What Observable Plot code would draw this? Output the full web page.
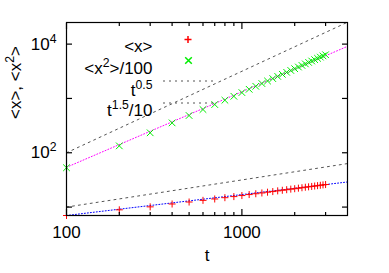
<!DOCTYPE html>
<html>
<head>
<meta charset="utf-8">
<script src="https://cdn.jsdelivr.net/npm/d3@7"></script>
<script src="https://cdn.jsdelivr.net/npm/@observablehq/plot@0.6"></script>
<style>
  html, body { margin: 0; padding: 0; background: white; }
</style>
</head>
<body>
<div id="chart"></div>
<script>
// ---- data ----
const tValues = [100, 200, 300, 400, 500, 600, 700, 800, 900, 1000,
  1100, 1200, 1300, 1400, 1500, 1600, 1700, 1800, 1900, 2000,
  2100, 2200, 2300, 2400, 2500, 2600, 2700, 2800, 2900, 3000];
const meanX = [7.0, 8.9, 10.1, 11.4, 12.4, 13.3, 14.1, 14.9, 15.6, 16.3,
  17.0, 17.6, 18.2, 18.8, 19.3, 19.9, 20.4, 20.9, 21.4, 21.8,
  22.3, 22.7, 23.2, 23.6, 24.0, 24.4, 24.8, 25.2, 25.6, 26.0];
const meanX2over100 = [53, 134, 233, 355, 485, 626, 773, 927, 1096, 1282,
  1473, 1673, 1880, 2095, 2318, 2546, 2782, 3024, 3273, 3527,
  3787, 4054, 4325, 4602, 4886, 5173, 5466, 5764, 6066, 6375];
// fit lines (endpoints)
const fitT = [100, 4000];
const fitX = [7.0, 29.0];
const fitX2 = [54, 9100];
// reference power laws (endpoints)
const refT = [100, 4000];
const refSqrt = [10, 63.2];       // t^0.5
const refT15 = [100, 25298];      // t^1.5/10
// ticks
const xMajor = [100, 1000];
const xMinor = [200, 300, 400, 500, 600, 700, 800, 900, 2000, 3000];
const xLabels = ["100", "1000"];
const yMajor = [10, 100, 1000, 10000];
const yLabelValues = [100, 10000];
const yLabels = ["10^2", "10^4"];
const legendLabels = ["<x>", "<x^2>/100", "t^0.5", "t^1.5/10"];

const pts1 = tValues.map((t, i) => ({t, v: meanX[i]}));
const pts2 = tValues.map((t, i) => ({t, v: meanX2over100[i]}));
const line = (xs, ys) => xs.map((t, i) => ({t, v: ys[i]}));
const xLab = xMajor.map((t, i) => ({t, label: xLabels[i]}));
const yLab = yLabelValues.map((v, i) => ({v, label: yLabels[i]}));

const font = "'Liberation Sans', Arial, Helvetica, sans-serif";
const gray = "#555";
const grayDash = "2,4";
const tick = {tickFormat: () => "", label: null, strokeWidth: 1.2};

const chart = Plot.plot({
  width: 389,
  height: 273,
  marginLeft: 66,
  marginRight: 42,
  marginTop: 22,
  marginBottom: 58,
  x: {type: "log", domain: [100, 4000], axis: null},
  y: {type: "log", domain: [7, 25000], axis: null},
  style: {fontFamily: font, fontSize: "17px", background: "white", color: "black"},
  marks: [
    // reference lines
    Plot.line(line(refT, refSqrt), {x: "t", y: "v", stroke: gray, strokeWidth: 1, strokeDasharray: grayDash, clip: true}),
    Plot.line(line(refT, refT15), {x: "t", y: "v", stroke: gray, strokeWidth: 1, strokeDasharray: grayDash, clip: true}),
    // fits
    Plot.line(line(fitT, fitX), {x: "t", y: "v", stroke: "#0000ff", strokeWidth: 1, strokeDasharray: "1,2", clip: true}),
    Plot.line(line(fitT, fitX2), {x: "t", y: "v", stroke: "#ff00ff", strokeWidth: 1, strokeDasharray: "1,2", clip: true}),
    // data points
    Plot.dot(pts1, {x: "t", y: "v", symbol: "plus", r: 2.4, stroke: "#ff0000", strokeWidth: 1}),
    Plot.dot(pts2, {x: "t", y: "v", symbol: "times", r: 3.1, stroke: "#00ee00", strokeWidth: 1}),
    // frame
    Plot.frame({stroke: "black", strokeWidth: 1.2}),
    // ticks (inward)
    Plot.axisX(xMajor, {anchor: "bottom", tickSize: -6, ...tick}),
    Plot.axisX(xMajor, {anchor: "top", tickSize: -6, ...tick}),
    Plot.axisX(xMinor, {anchor: "bottom", tickSize: -3, ...tick}),
    Plot.axisX(xMinor, {anchor: "top", tickSize: -3, ...tick}),
    Plot.axisY(yMajor, {anchor: "left", tickSize: -6, ...tick}),
    Plot.axisY(yMajor, {anchor: "right", tickSize: -6, ...tick}),
    // tick labels
    Plot.text(xLab, {x: "t", text: "label", frameAnchor: "bottom", lineAnchor: "top", dy: 10, fontSize: 17, fill: "black"}),
    Plot.text(yLab, {y: "v", text: "label", frameAnchor: "left", textAnchor: "end", dx: -10, fontSize: 17, fill: "black"}),
    // axis titles
    Plot.text(["t"], {frameAnchor: "bottom", dy: 45, fontSize: 17, fill: "black"}),
    Plot.text(["<x>, <x^2>"], {frameAnchor: "left", rotate: -90, dx: -51, fontSize: 17, fill: "black"}),
    // legend texts
    Plot.text([legendLabels[0]], {frameAnchor: "top-left", dx: 86, dy: 17.5, textAnchor: "end", fontSize: 17, fill: "black"}),
    Plot.text([legendLabels[1]], {frameAnchor: "top-left", dx: 86, dy: 39, textAnchor: "end", fontSize: 17, fill: "black"}),
    Plot.text([legendLabels[2]], {frameAnchor: "top-left", dx: 86, dy: 61, textAnchor: "end", fontSize: 17, fill: "black"}),
    Plot.text([legendLabels[3]], {frameAnchor: "top-left", dx: 86, dy: 81.5, textAnchor: "end", fontSize: 17, fill: "black"}),
    // legend symbols
    Plot.dot([0], {frameAnchor: "top-left", dx: 121.5, dy: 17, symbol: "plus", r: 2.4, stroke: "#ff0000"}),
    Plot.dot([0], {frameAnchor: "top-left", dx: 122, dy: 38, symbol: "times", r: 3.1, stroke: "#00ee00"})
  ]
});

document.getElementById("chart").appendChild(chart);

// legend sample lines (dashed gray)
const svg = d3.select(chart);
const legendLines = [{y: 81}, {y: 103}];
svg.selectAll("line.legend-sample").data(legendLines).join("line")
  .attr("class", "legend-sample")
  .attr("x1", 163).attr("x2", 214)
  .attr("y1", d => d.y).attr("y2", d => d.y)
  .attr("stroke", gray).attr("stroke-width", 1).attr("stroke-dasharray", grayDash);

// superscripts: convert "^digits" into raised tspans
svg.selectAll("text").each(function() {
  const el = this;
  if (el.children.length) {
    d3.select(el).selectAll("tspan").each(function() { convert(this); });
  } else {
    convert(el);
  }
});
function convert(el) {
  const s = el.textContent;
  if (!s.includes("^")) return;
  const parts = s.split(/\^([0-9.]+)/);
  el.textContent = "";
  parts.forEach((p, i) => {
    if (!p) return;
    const ts = document.createElementNS("http://www.w3.org/2000/svg", "tspan");
    ts.textContent = p;
    if (i % 2 === 1) {
      ts.setAttribute("font-size", "0.72em");
      ts.setAttribute("dy", "-0.55em");
    } else if (i > 0) {
      ts.setAttribute("dy", "0.4em");
    }
    el.appendChild(ts);
  });
}
</script>
</body>
</html>
